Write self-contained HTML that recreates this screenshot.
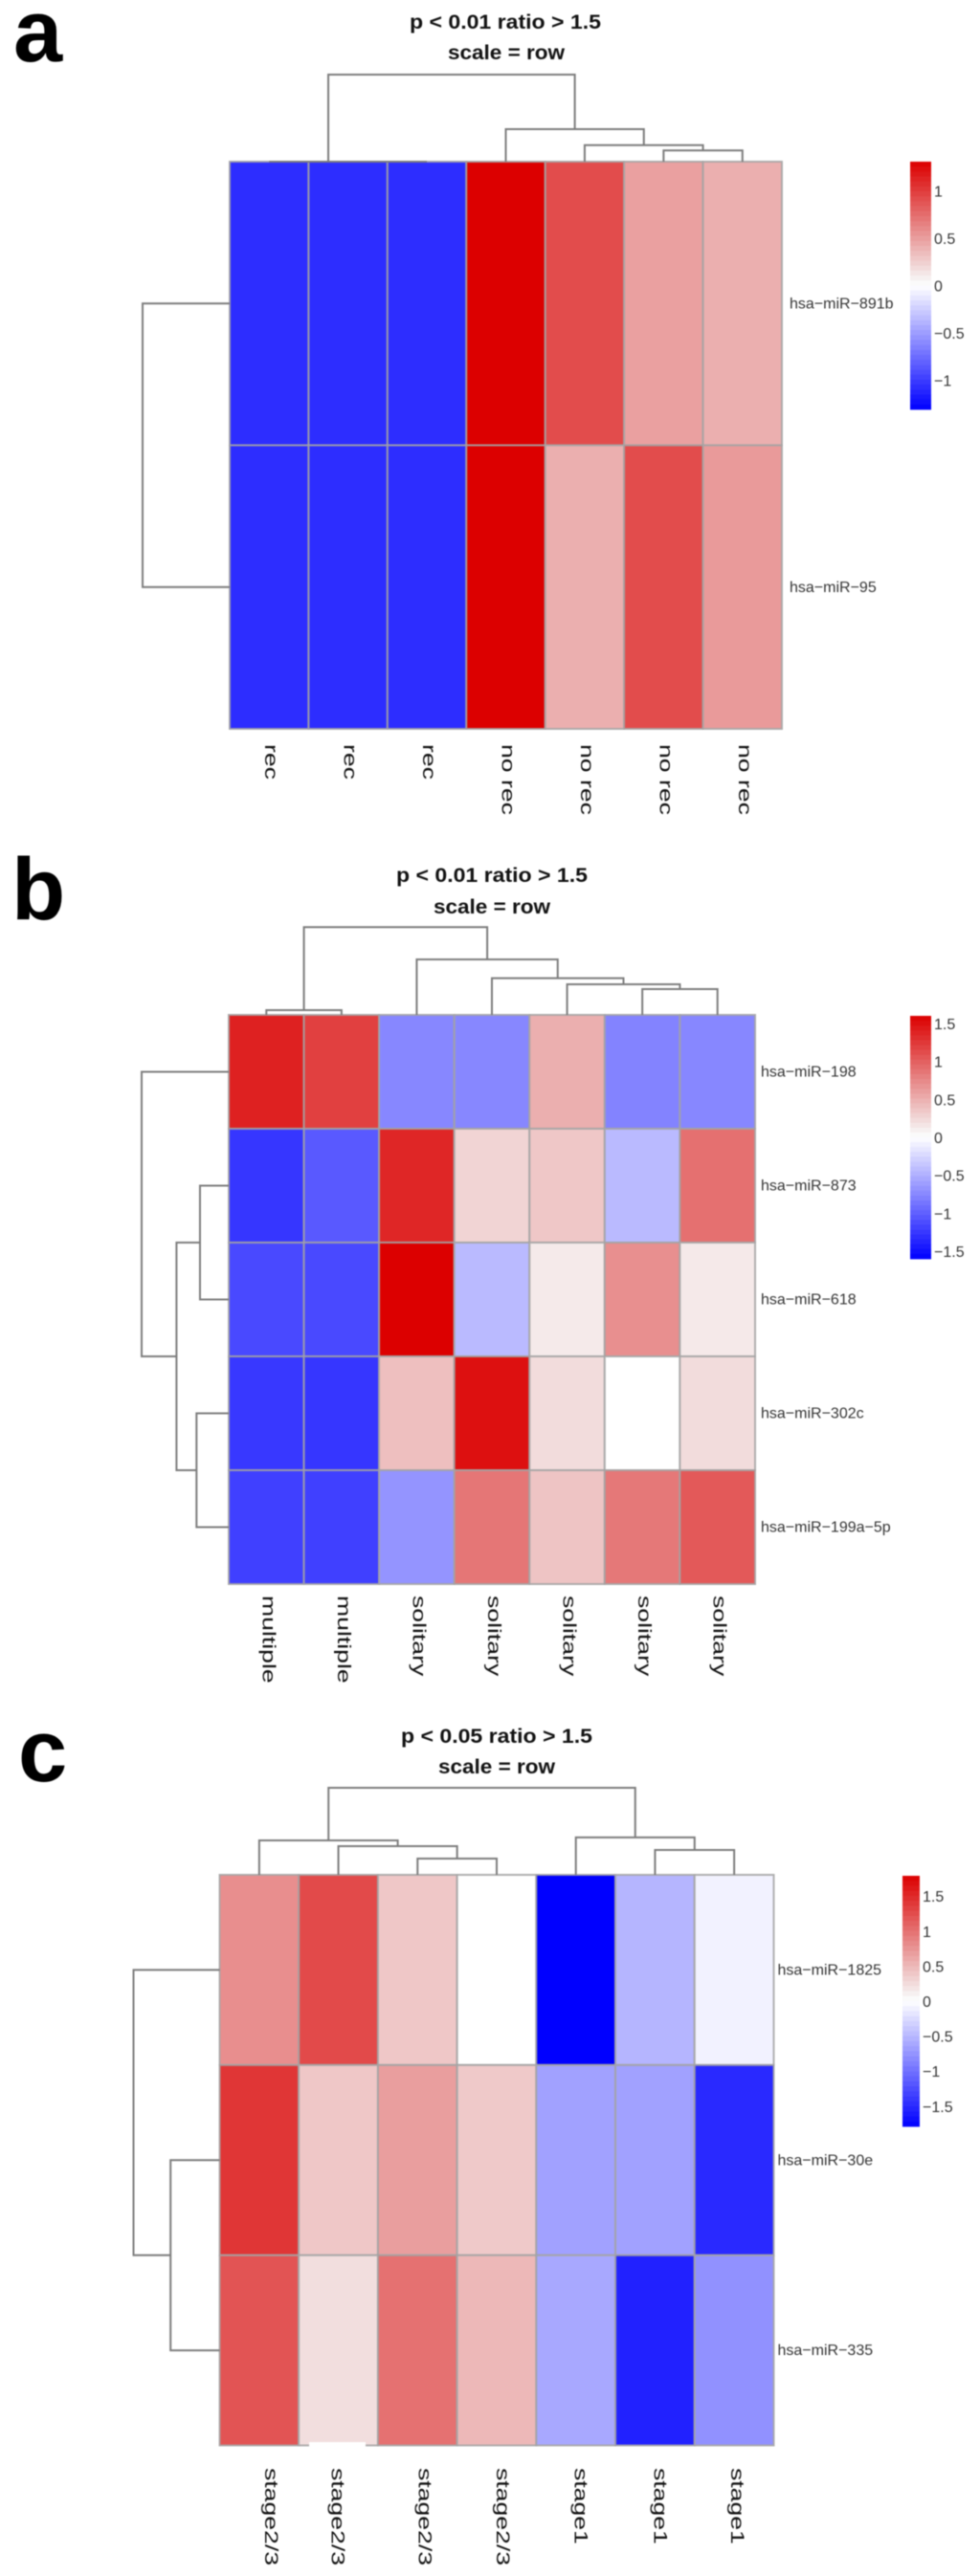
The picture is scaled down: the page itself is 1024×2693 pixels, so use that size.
<!DOCTYPE html>
<html lang="en">
<head>
<meta charset="utf-8">
<title>Clustered miRNA heatmaps</title>
<style>
  html, body { margin: 0; padding: 0; background: #fff; }
  #figure { display: block; width: 1024px; height: 2693px; filter: blur(0.6px); font-family: "Liberation Sans", sans-serif; }
  .title { font-weight: bold; font-size: 21px; fill: #111; text-anchor: middle; }
  .letter { font-weight: bold; font-size: 92px; fill: #000; }
</style>
</head>
<body>
<svg id="figure" xmlns="http://www.w3.org/2000/svg" width="1024" height="2693" viewBox="0 0 1024 2693">
  <rect x="0" y="0" width="1024" height="2693" fill="#fff"/>
  <text class="letter" x="14" y="64">a</text>
  <text class="title" x="528" y="30" textLength="200" lengthAdjust="spacingAndGlyphs">p &lt; 0.01 ratio &gt; 1.5</text>
  <text class="title" x="529" y="62" textLength="122" lengthAdjust="spacingAndGlyphs">scale = row</text>
  <g id="panel-a"></g>
  <text class="letter" x="12" y="961">b</text>
  <text class="title" x="514" y="922" textLength="200" lengthAdjust="spacingAndGlyphs">p &lt; 0.01 ratio &gt; 1.5</text>
  <text class="title" x="514" y="955" textLength="122" lengthAdjust="spacingAndGlyphs">scale = row</text>
  <g id="panel-b"></g>
  <text class="letter" x="19" y="1862">c</text>
  <text class="title" x="519" y="1822" textLength="200" lengthAdjust="spacingAndGlyphs">p &lt; 0.05 ratio &gt; 1.5</text>
  <text class="title" x="519" y="1854" textLength="122" lengthAdjust="spacingAndGlyphs">scale = row</text>
  <g id="panel-c"></g>
  <rect x="323" y="2553" width="59" height="7" fill="#fff"/>
</svg>
<script>
// Panel a data
const aColLabels = ["rec", "rec", "rec", "no rec", "no rec", "no rec", "no rec"];
const aRowLabels = ["hsa\u2212miR\u2212891b", "hsa\u2212miR\u221295"];
const aValues = [
  [-1.08, -1.08, -1.08, 1.31, 0.92, 0.49, 0.41],
  [-1.08, -1.08, -1.08, 1.31, 0.41, 0.92, 0.52]
];
// merges: [childA, childB, height]; leaves are 0..n-1, merge k is node n+k
const aColMerges = [[1, 2, 0], [0, 7, 0], [5, 6, 0.129], [4, 9, 0.19], [3, 10, 0.374], [8, 11, 1]];
const aRowMerges = [[0, 1, 1]];
const aLegendTicks = [1, 0.5, 0, -0.5, -1];

// Panel b data
const bColLabels = ["multiple", "multiple", "solitary", "solitary", "solitary", "solitary", "solitary"];
const bRowLabels = ["hsa\u2212miR\u2212198", "hsa\u2212miR\u2212873", "hsa\u2212miR\u2212618", "hsa\u2212miR\u2212302c", "hsa\u2212miR\u2212199a\u22125p"];
const bValues = [
  [1.39, 1.2, -0.75, -0.75, 0.5, -0.78, -0.75],
  [-1.26, -1.04, 1.36, 0.27, 0.35, -0.43, 0.9],
  [-1.14, -1.14, 1.6, -0.43, 0.13, 0.7, 0.14],
  [-1.25, -1.26, 0.4, 1.5, 0.22, 0, 0.22],
  [-1.2, -1.2, -0.67, 0.86, 0.37, 0.85, 1.04]
];
const bColMerges = [[0, 1, 0.055], [5, 6, 0.294], [4, 8, 0.349], [3, 9, 0.418], [2, 10, 0.632], [7, 11, 1]];
const bRowMerges = [[1, 2, 0.33], [3, 4, 0.37], [5, 6, 0.6], [0, 7, 1]];
const bLegendTicks = [1.5, 1, 0.5, 0, -0.5, -1, -1.5];

// Panel c data
const cColLabels = ["stage2/3", "stage2/3", "stage2/3", "stage2/3", "stage1", "stage1", "stage1"];
const cRowLabels = ["hsa\u2212miR\u22121825", "hsa\u2212miR\u221230e", "hsa\u2212miR\u2212335"];
const cValues = [
  [0.79, 1.27, 0.39, 0, -1.79, -0.52, -0.09],
  [1.41, 0.39, 0.68, 0.38, -0.66, -0.66, -1.5],
  [1.2, 0.23, 1.0, 0.5, -0.61, -1.56, -0.77]
];
const cColMerges = [[2, 3, 0.187], [1, 7, 0.33], [0, 8, 0.396], [5, 6, 0.286], [4, 10, 0.43], [9, 11, 1]];
const cRowMerges = [[1, 2, 0.57], [0, 3, 1]];
const cLegendTicks = [1.5, 1, 0.5, 0, -0.5, -1, -1.5];

const SVG_NS = "http://www.w3.org/2000/svg";

function make(tag, attrs, parent) {
  const el = document.createElementNS(SVG_NS, tag);
  for (const key in attrs) el.setAttribute(key, attrs[key]);
  parent.appendChild(el);
  return el;
}

function colorFor(v, domain) {
  const t = Math.max(-1, Math.min(1, v / domain));
  if (t >= 0) {
    const gb = Math.round(255 * (1 - t));
    const r = Math.round(255 - 35 * Math.sqrt(t));
    return "rgb(" + r + "," + gb + "," + gb + ")";
  }
  const rg = Math.round(255 * (1 + t));
  return "rgb(" + rg + "," + rg + ",255)";
}

// Lay out merges: returns node centres along the leaf axis and node heights
function layoutTree(merges, leafCount, leafCenter) {
  const pos = [];
  const hgt = [];
  for (let i = 0; i < leafCount; i++) {
    pos.push(leafCenter(i));
    hgt.push(0);
  }
  merges.forEach(function (m) {
    pos.push((pos[m[0]] + pos[m[1]]) / 2);
    hgt.push(m[2]);
  });
  return { pos: pos, hgt: hgt };
}

function drawPanel(id, cfg) {
  const root = document.getElementById(id);
  const nRows = cfg.values.length;
  const nCols = cfg.colLabels.length;
  const cw = cfg.w / nCols;
  const rh = cfg.h / nRows;
  const xCenter = function (i) { return cfg.x + (i + 0.5) * cw; };
  const yCenter = function (i) { return cfg.y + (i + 0.5) * rh; };
  const topDendroY = function (h) { return cfg.y - h * cfg.topDendro; };
  const leftDendroX = function (h) { return cfg.x - h * cfg.leftDendro; };

  // cells
  const cells = make("g", {}, root);
  
  
  cfg.values.forEach(function (row, r) {
    row.forEach(function (v, c) {
      const cell = make("rect", {
        x: cfg.x + c * cw, y: cfg.y + r * rh, width: cw, height: rh,
        fill: colorFor(v, cfg.domain), stroke: "#a3a3a3", "stroke-width": 2, "stroke-opacity": 0.85
      }, cells);
      
      
    });
  });

  // column dendrogram
  const colTree = layoutTree(cfg.colMerges, nCols, xCenter);
  const colGroup = make("g", { fill: "none", stroke: "#7c7c7c", "stroke-width": 2 }, root);
  
  
  cfg.colMerges.forEach(function (m) {
    const a = colTree.pos[m[0]], b = colTree.pos[m[1]];
    const d = "M" + a + " " + topDendroY(colTree.hgt[m[0]]) + "V" + topDendroY(m[2]) + "H" + b + "V" + topDendroY(colTree.hgt[m[1]]);
    const link = make("path", { d: d }, colGroup);
    
    
  });

  // row dendrogram
  const rowTree = layoutTree(cfg.rowMerges, nRows, yCenter);
  const rowGroup = make("g", { fill: "none", stroke: "#7c7c7c", "stroke-width": 2 }, root);
  
  
  cfg.rowMerges.forEach(function (m) {
    const a = rowTree.pos[m[0]], b = rowTree.pos[m[1]];
    const d = "M" + leftDendroX(rowTree.hgt[m[0]]) + " " + a + "H" + leftDendroX(m[2]) + "V" + b + "H" + leftDendroX(rowTree.hgt[m[1]]);
    const link = make("path", { d: d }, rowGroup);
    
    
  });

  // column labels
  cfg.colLabels.forEach(function (label, i) {
    const shift = cfg.labelShift ? cfg.labelShift[i] : 0;
    const bx = xCenter(i) - 4 + shift;
    const t = make("text", {
      transform: "translate(" + bx + " " + cfg.colLabelY + ") rotate(90) scale(1.4 1)",
      "font-size": 19, fill: "#111"
    }, root);
    t.textContent = label;
    
    
  });

  // row labels
  cfg.rowLabels.forEach(function (label, i) {
    const t = make("text", { x: cfg.x + cfg.w + cfg.rowLabelGap, y: yCenter(i) + cfg.rowLabelDy, "font-size": 16, fill: "#333" }, root);
    t.textContent = label;
    
    
  });

  // legend
  const lg = cfg.legend;
  const legendMid = (lg.top + lg.bottom) / 2;
  const legendHalf = (lg.bottom - lg.top) / 2;
  const legendY = function (v) { return legendMid - v / cfg.domain * legendHalf; };
  const legendGroup = make("g", {}, root);
  
  
  const steps = 50;
  for (let s = 0; s < steps; s++) {
    const vTop = cfg.domain - s * (2 * cfg.domain / steps);
    const vMid = vTop - cfg.domain / steps;
    const band = make("rect", {
      x: lg.x, y: legendY(vTop), width: lg.width, height: 2 * legendHalf / steps + 0.4, fill: colorFor(vMid, cfg.domain)
    }, legendGroup);
    
    
  }
  cfg.legendTicks.forEach(function (v) {
    const text = (v < 0 ? "\u2212" : "") + Math.abs(v);
    const t = make("text", { x: lg.x + lg.width + 3, y: legendY(v) + 6, "font-size": 16, fill: "#333" }, legendGroup);
    t.textContent = text;
    
    
  });
}

drawPanel("panel-a", {
  x: 240, y: 169, w: 577, h: 593, domain: 1.31,
  values: aValues, colLabels: aColLabels, rowLabels: aRowLabels,
  colMerges: aColMerges, rowMerges: aRowMerges, legendTicks: aLegendTicks,
  topDendro: 91, leftDendro: 91, colLabelY: 778, rowLabelGap: 8, rowLabelDy: 5,
  legend: { x: 951, width: 22, top: 169, bottom: 428 }
});
drawPanel("panel-b", {
  x: 239, y: 1061, w: 550, h: 595, domain: 1.6,
  values: bValues, colLabels: bColLabels, rowLabels: bRowLabels,
  colMerges: bColMerges, rowMerges: bRowMerges, legendTicks: bLegendTicks,
  topDendro: 91.7, leftDendro: 91, colLabelY: 1668, rowLabelGap: 6, rowLabelDy: 5,
  legend: { x: 951, width: 22, top: 1062, bottom: 1316 }
});
drawPanel("panel-c", {
  x: 229.5, y: 1960, w: 579, h: 596.5, domain: 1.79,
  values: cValues, colLabels: cColLabels, rowLabels: cRowLabels,
  colMerges: cColMerges, rowMerges: cRowMerges, legendTicks: cLegendTicks,
  labelShift: [10, -3, 5, 4, 3, 3, 1],
  topDendro: 91, leftDendro: 90, colLabelY: 2580, rowLabelGap: 4, rowLabelDy: 5,
  legend: { x: 943, width: 18, top: 1961, bottom: 2223 }
});
</script>
</body>
</html>
